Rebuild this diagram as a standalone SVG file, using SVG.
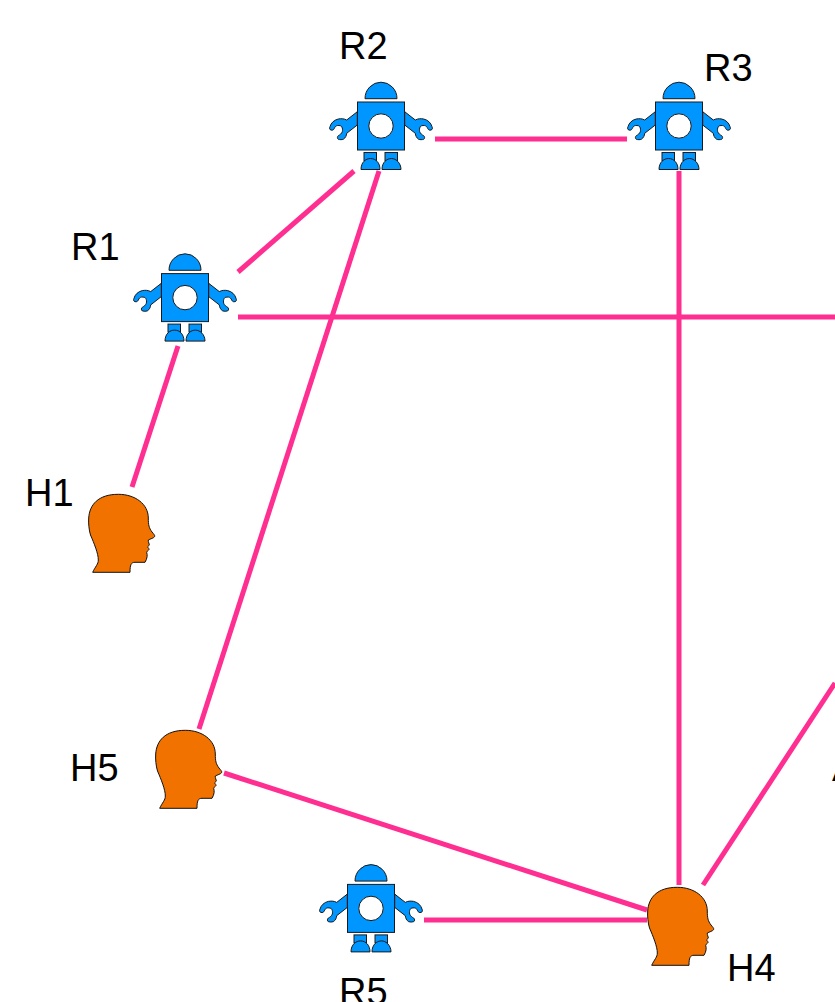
<svg xmlns="http://www.w3.org/2000/svg" width="835" height="1002" viewBox="0 0 835 1002">
<style>
.lbl{font-family:"Liberation Sans",Arial,sans-serif;font-size:38px;fill:#000}
.c{stroke:#ff2f92;stroke-width:5;fill:none}
.r{fill:#0096ff;stroke:#1a1a1a;stroke-width:1}
.h{fill:#f27200;stroke:#111;stroke-width:1}
</style>
<defs>
<g id="robot">
<path class="r" d="M-16,-27.300A16,16.500 0 0 1 16,-27.300Z"/>
<path id="arm" class="r" d="M-23.700,-14.300L-34.300,-6C-37,-7.500 -40,-7.500 -42.700,-7C-47,-6 -50,-3 -51,.7C-51.700,2.300 -51.700,3.500 -50,4C-48.500,4.500 -47.500,4 -46.700,2.500C-46,.8 -45,-.3 -43.500,-.5C-41.500,-.6 -39.700,-.3 -39.300,.7C-38.300,2.500 -38.300,4 -38.700,5.700C-39.300,7.500 -41,8.800 -42.700,9.700C-43.800,10.500 -44,12.500 -42.700,13.300C-41,13.800 -39,13.800 -37.700,13.300C-35.500,12 -34.500,9.500 -34.300,7.300L-23.700,-1Z"/>
<path class="r" d="M23.700,-14.300L34.300,-6C37,-7.500 40,-7.500 42.700,-7C47,-6 50,-3 51,.7C51.700,2.300 51.700,3.500 50,4C48.500,4.500 47.500,4 46.700,2.500C46,.8 45,-.3 43.500,-.5C41.500,-.6 39.700,-.3 39.300,.7C38.300,2.500 38.300,4 38.700,5.700C39.300,7.500 41,8.800 42.700,9.700C43.800,10.500 44,12.500 42.700,13.300C41,13.800 39,13.800 37.700,13.300C35.500,12 34.500,9.500 34.300,7.300L23.700,-1Z"/>
<rect class="r" x="-23.500" y="-24" width="47" height="48"/>
<circle cx="0" cy="0" r="12.200" fill="#fff" stroke="#1a1a1a" stroke-width="1"/>
<rect class="r" x="-17" y="26.500" width="12.500" height="8"/>
<rect class="r" x="4" y="26.500" width="12.500" height="8"/>
<path class="r" d="M-20,43.500C-20,36 -15,32.500 -10.500,32.500C-5,32.500 -1,37 -1,43.500Z"/>
<path class="r" d="M1,43.500C1,36 6,32.500 10.500,32.500C15,32.500 20,37 20,43.500Z"/>
</g>
<path id="head" class="h" d="M12.700,87.300C15,82 18.500,79 18.300,75C18.500,69 14,58 10.500,50C9,45 8.300,38 8.700,33C9.500,20 18,9.300 38.300,9.300C55,9.300 68.300,19 68.300,33C68.300,40 69,43 72,47C73.500,49 75,50 74.700,51.500C74,53 70,54 68.300,55C68,57 69.500,59 69.300,60C68.800,61 67.500,61.500 67.700,62C68,63 69.300,63.500 69,64.500C68,66 66.500,66.500 66.700,67.500C67.500,70 67.500,73 65,77.300L55,77.300C51,77.300 50,80 50,87.300Z"/>
</defs>
<g id="connectors">
<path class="c" d="M435,139H627"/>
<path class="c" d="M354,171L238,272"/>
<path class="c" d="M379,171L199,729"/>
<path class="c" d="M679,171V885"/>
<path class="c" d="M238,317H835"/>
<path class="c" d="M178,346L132,487"/>
<path class="c" d="M224,773L647,910"/>
<path class="c" d="M424,920H647"/>
<path class="c" d="M703,885L835,683"/>
</g>
<g id="R1"><use href="#robot" x="185" y="297.600"/><text class="lbl" x="71" y="259.500">R1</text></g>
<g id="R2"><use href="#robot" x="381" y="126"/><text class="lbl" x="339" y="58.500">R2</text></g>
<g id="R3"><use href="#robot" x="679" y="126"/><text class="lbl" x="704" y="80.500">R3</text></g>
<g id="R5"><use href="#robot" x="371" y="908.400"/><text class="lbl" x="339" y="1004.500">R5</text></g>
<g id="H1"><use href="#head" x="80" y="485"/><text class="lbl" x="25" y="505.500">H1</text></g>
<g id="H5"><use href="#head" x="147" y="721"/><text class="lbl" x="70" y="780.500">H5</text></g>
<g id="H4"><use href="#head" x="639" y="878"/><text class="lbl" x="727" y="980.500">H4</text></g>
<g id="A"><text class="lbl" x="832" y="781">A</text></g>
</svg>
